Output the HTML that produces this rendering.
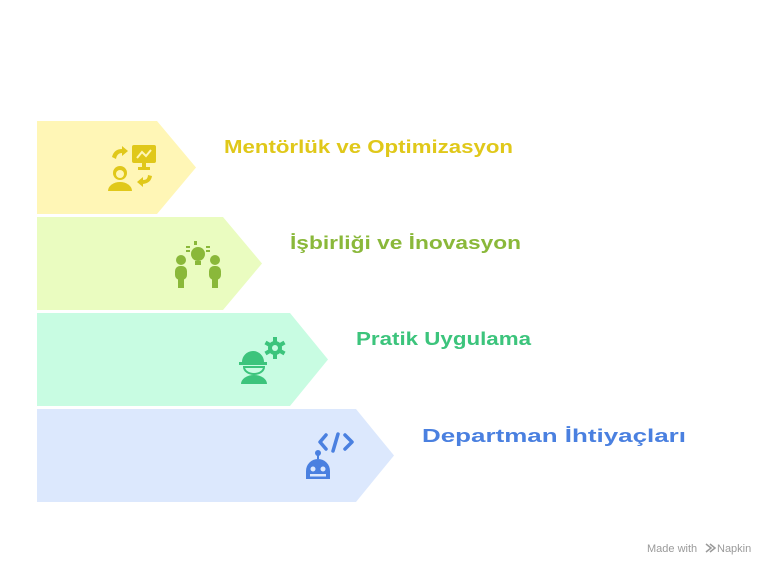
<!DOCTYPE html>
<html><head><meta charset="utf-8"><style>
html,body{margin:0;padding:0;background:#fff;width:780px;height:577px;overflow:hidden}
text{font-family:"Liberation Sans",sans-serif;font-weight:bold}
</style></head><body>
<svg width="780" height="577" viewBox="0 0 780 577" xmlns="http://www.w3.org/2000/svg">
<polygon points="37,121 157,121 196,167.5 157,214 37,214" fill="#fff6b6"/>
<polygon points="37,217 223,217 262,263.5 223,310 37,310" fill="#eafcc0"/>
<polygon points="37,313 290,313 328,359.5 290,406 37,406" fill="#c8fce2"/>
<polygon points="37,409 356,409 394,455.5 356,502 37,502" fill="#dce8fd"/>

<text x="224" y="153" font-size="18" fill="#e0c81a" textLength="289" lengthAdjust="spacingAndGlyphs">Mentörlük ve Optimizasyon</text>
<text x="290" y="249" font-size="18" fill="#8ab83a" textLength="231" lengthAdjust="spacingAndGlyphs">İşbirliği ve İnovasyon</text>
<text x="356" y="345" font-size="18" fill="#3cc47c" textLength="175" lengthAdjust="spacingAndGlyphs">Pratik Uygulama</text>
<text x="422" y="442" font-size="18" fill="#4a80e0" textLength="264" lengthAdjust="spacingAndGlyphs">Departman İhtiyaçları</text>

<!-- icon 1 -->
<g fill="#e0c81a">
<rect x="132" y="145" width="24" height="18" rx="2"/>
<rect x="142" y="163" width="4" height="5"/><rect x="138" y="167" width="12" height="3"/>
<circle cx="120" cy="173" r="7"/>
<path d="M108,191 a12,9 0 0 1 24,0 z"/>
<path d="M112,157 q2,-8 10,-8 l0,-3 6,5 -6,5 0,-3 q-5,0 -6,6z"/>
<path d="M152,176 q-1,7 -9,8 l0,3 -6,-5 6,-5 0,3 q5,0 5,-5z"/>
</g>
<path d="M137,158 l5,-6 4,4 5,-6" stroke="#fff6b6" stroke-width="2" fill="none"/>
<circle cx="120" cy="174" r="4" fill="#fff6b6"/>
<!-- icon 2 -->
<g fill="#8ab83a">
<circle cx="198" cy="254" r="7"/><rect x="195" y="261" width="6" height="4"/>
<rect x="194" y="241" width="3" height="4"/><rect x="186" y="246" width="4" height="2"/><rect x="206" y="246" width="4" height="2"/>
<rect x="186" y="250" width="4" height="2"/><rect x="206" y="250" width="4" height="2"/>
<circle cx="181" cy="260" r="5"/><rect x="175" y="266" width="12" height="14" rx="5"/><rect x="178" y="272" width="6" height="16"/>
<circle cx="215" cy="260" r="5"/><rect x="209" y="266" width="12" height="14" rx="5"/><rect x="212" y="272" width="6" height="16"/>
</g>
<!-- icon 3 -->
<g fill="#3cc47c">
<path d="M242,362 a11,11 0 0 1 22,0 l3,0 0,3 -28,0 0,-3z"/>
<path d="M244,367 h20 a10,7 0 0 1 -20,0z" fill="none" stroke="#3cc47c" stroke-width="2"/>
<path d="M241,384 a13,9 0 0 1 26,0z"/>
<circle cx="275" cy="348" r="7"/>
<g transform="translate(275,348)"><rect x="-2" y="-11" width="4" height="22"/><rect x="-2" y="-11" width="4" height="22" transform="rotate(60)"/><rect x="-2" y="-11" width="4" height="22" transform="rotate(120)"/></g>
</g>
<circle cx="275" cy="348" r="3" fill="#c8fce2"/>
<!-- icon 4 -->
<g fill="none" stroke="#4a80e0" stroke-width="3.5" stroke-linecap="round" stroke-linejoin="round">
<polyline points="326,435 320,442 326,449"/><polyline points="345,435 352,442 345,449"/><line x1="338" y1="434" x2="333" y2="451"/>
</g>
<g fill="#4a80e0">
<circle cx="318" cy="453" r="3"/><rect x="317" y="453" width="2" height="6"/>
<path d="M306,479 v-8 a12,12 0 0 1 24,0 v8z"/>
</g>
<circle cx="313" cy="469" r="2.5" fill="#dce8fd"/><circle cx="323" cy="469" r="2.5" fill="#dce8fd"/>
<rect x="310" y="474" width="16" height="2.5" fill="#dce8fd"/>

<text x="647" y="552" font-size="11" fill="#9a9a9a" style="font-weight:normal">Made with</text>
<path d="M706,544 l5,4 -5,4 M710,544 l5,4 -5,4" stroke="#9a9a9a" stroke-width="1.5" fill="none"/>
<text x="717" y="552" font-size="11" fill="#9a9a9a" style="font-weight:normal">Napkin</text>
</svg>
</body></html>
